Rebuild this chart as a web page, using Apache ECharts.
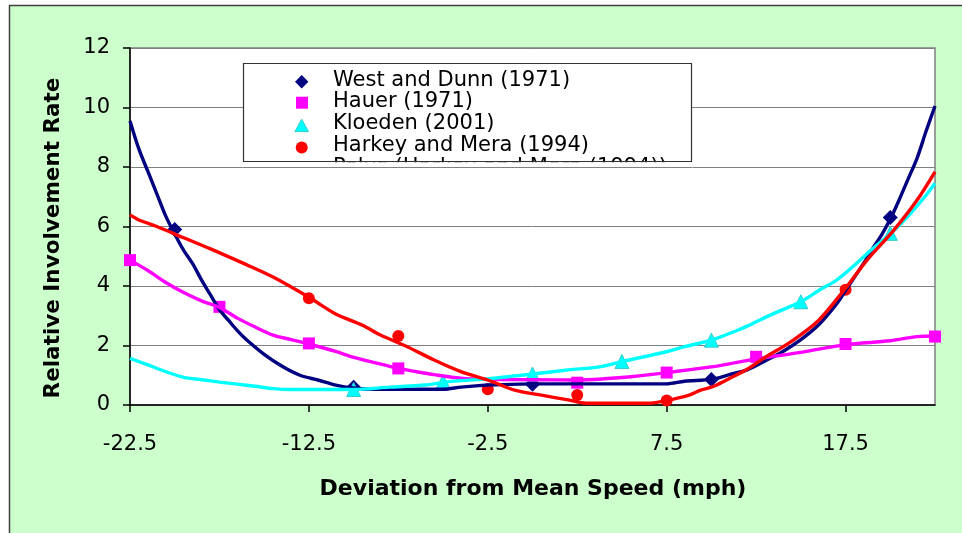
<!DOCTYPE html>
<html>
<head>
<meta charset="utf-8">
<script src="https://cdn.jsdelivr.net/npm/echarts@6/dist/echarts.min.js"></script>
<style>
  html, body { margin: 0; padding: 0; background: #fff; }
  #chart { width: 962px; height: 533px; }
</style>
</head>
<body>
<div id="chart"></div>
<script>
// Relative involvement rate vs. deviation from mean speed (mph)

const xTicks = [-22.5, -12.5, -2.5, 7.5, 17.5];
const yTicks = [0, 2, 4, 6, 8, 10, 12];

const seriesNames = [
  'West and Dunn (1971)',
  'Hauer (1971)',
  'Kloeden (2001)',
  'Harkey and Mera (1994)',
  'Polus (Harkey and Mera (1994))'
];

// Fitted curves: [deviation mph, relative rate]
const westDunnCurve = [
  [-22.5, 9.55], [-22, 8.6], [-21.5, 7.85], [-21, 7.1], [-20.5, 6.35], [-20, 5.75],
  [-19.5, 5.2], [-19, 4.75], [-18.5, 4.2], [-18, 3.7], [-17.5, 3.2], [-17, 2.85],
  [-16.5, 2.5], [-16, 2.2], [-15, 1.7], [-14, 1.3], [-13, 1.0], [-12, 0.84],
  [-11, 0.67], [-10, 0.57], [-9, 0.53], [-5, 0.53], [-4, 0.6], [-3, 0.65],
  [-2, 0.68], [0, 0.71], [7.5, 0.71], [8.5, 0.8], [10, 0.86], [11, 1.02],
  [12, 1.18], [13, 1.48], [14, 1.8], [15, 2.2], [16, 2.7], [17, 3.4],
  [17.5, 3.85], [18, 4.3], [18.5, 4.75], [19, 5.25], [19.5, 5.7], [20, 6.25],
  [20.5, 6.9], [21, 7.6], [21.5, 8.3], [22, 9.2], [22.5, 10.05]
];
const hauerCurve = [
  [-22.5, 4.87], [-21.5, 4.52], [-20.5, 4.12], [-19.5, 3.78], [-18.5, 3.5],
  [-17.5, 3.28], [-16.5, 2.92], [-15.5, 2.62], [-14.5, 2.35], [-13.5, 2.2],
  [-12.5, 2.05], [-11, 1.8], [-10, 1.6], [-9, 1.45], [-7.5, 1.23], [-6.5, 1.12],
  [-5.5, 1.02], [-4, 0.9], [-2.5, 0.86], [0, 0.85], [2.5, 0.84], [4, 0.88],
  [5.5, 0.95], [7.5, 1.09], [10, 1.28], [12.5, 1.55], [15, 1.77], [17.5, 2.03],
  [20, 2.16], [21.5, 2.3], [22.5, 2.32]
];
const kloedenCurve = [
  [-22.5, 1.57], [-21.5, 1.35], [-20.5, 1.12], [-19.5, 0.93], [-18.5, 0.85],
  [-17.5, 0.77], [-16.5, 0.7], [-15.5, 0.63], [-14.5, 0.55], [-13.5, 0.52],
  [-10, 0.52], [-8, 0.6], [-6, 0.67], [-5, 0.76], [-4, 0.82], [-2.5, 0.88],
  [0, 1.04], [2, 1.18], [3.75, 1.28], [5, 1.46], [7.5, 1.79], [8.5, 1.96],
  [10, 2.18], [11.5, 2.52], [12, 2.65], [13.5, 3.08], [15, 3.47], [16, 3.85],
  [17, 4.2], [18, 4.7], [19, 5.25], [20, 5.75], [21, 6.35], [22, 7.05], [22.5, 7.45]
];
const harkeyCurve = [
  [-22.5, 6.39], [-22, 6.22], [-21, 6.0], [-19.5, 5.62], [-18, 5.25], [-16, 4.72],
  [-14.5, 4.3], [-12.5, 3.62], [-11, 3.06], [-9.5, 2.68], [-8.5, 2.35], [-7, 1.96],
  [-5.5, 1.51], [-4, 1.12], [-2.5, 0.84], [-1, 0.5], [0.5, 0.33], [2, 0.17],
  [3, 0.06], [6.5, 0.06], [7.5, 0.15], [8.8, 0.34], [9.4, 0.5], [10.1, 0.62],
  [11.2, 0.95], [12, 1.2], [13, 1.6], [14.5, 2.15], [16, 2.85], [17.4, 3.85],
  [18.7, 4.87], [20.2, 5.88], [21.5, 6.89], [22.5, 7.84]
];

// Observed data points
const westDunnPoints = [[-20, 5.9], [-10, 0.6], [0, 0.7], [10, 0.86], [20, 6.3]];
const hauerPoints = [
  [-22.5, 4.87], [-17.5, 3.3], [-12.5, 2.07], [-7.5, 1.23], [2.5, 0.75],
  [7.5, 1.09], [12.5, 1.62], [17.5, 2.05], [22.5, 2.3]
];
const kloedenPoints = [[-10, 0.52], [-5, 0.78], [0, 1.04], [5, 1.46], [10, 2.18], [15, 3.47], [20, 5.77]];
const harkeyPoints = [[-12.5, 3.59], [-7.5, 2.32], [-2.5, 0.53], [2.5, 0.34], [7.5, 0.15], [17.5, 3.87]];

const colors = ['#000080', '#FF00FF', '#00FFFF', '#FF0000'];
const symbols = ['diamond', 'rect', 'triangle', 'circle'];
const symbolSizes = [15, 12, 14, 12];
const symbolBorders = ['#000080', '#FF00FF', '#33CCCC', '#FF0000'];

const FONT = 'DejaVu Sans';

const curves = [westDunnCurve, hauerCurve, kloedenCurve, harkeyCurve];
const points = [westDunnPoints, hauerPoints, kloedenPoints, harkeyPoints];

const series = [];
for (let i = 0; i < 4; i++) {
  series.push({
    type: 'line',
    name: seriesNames[i] + ' curve',
    data: curves[i],
    showSymbol: false,
    smooth: 0.3,
    lineStyle: { color: colors[i], width: 3.4 },
    silent: true
  });
  series.push({
    type: 'scatter',
    name: seriesNames[i],
    data: points[i],
    symbol: symbols[i],
    symbolSize: symbolSizes[i],
    itemStyle: { color: colors[i], borderColor: symbolBorders[i], borderWidth: i === 2 ? 1 : 0, opacity: 1 }
  });
}

const chart = echarts.init(document.getElementById('chart'), null, { renderer: 'canvas' });

const option = {
  backgroundColor: '#ffffff',
  animation: false,
  grid: {
    left: 130, right: 27, top: 48, bottom: 128,
    show: true, backgroundColor: '#ffffff', borderColor: '#808080', borderWidth: 1.5
  },
  xAxis: {
    type: 'value', min: -22.5, max: 22.5,
    axisLine: { show: true, onZero: false, lineStyle: { color: '#000', width: 1.5 } },
    axisTick: { show: true, inside: false, length: 7, customValues: xTicks, lineStyle: { color: '#000', width: 1.5 } },
    axisLabel: {
      customValues: xTicks, margin: 29, color: '#000', fontFamily: FONT, fontSize: 21,
      formatter: v => v.toFixed(1)
    },
    splitLine: { show: false }
  },
  yAxis: {
    type: 'value', min: yTicks[0], max: yTicks[yTicks.length - 1], interval: 2,
    axisLine: { show: true, onZero: false, lineStyle: { color: '#000', width: 1.5 } },
    axisTick: { show: true, inside: false, length: 7, lineStyle: { color: '#000', width: 1.5 } },
    axisLabel: { margin: 20, color: '#000', fontFamily: FONT, fontSize: 21 },
    splitLine: { show: true, lineStyle: { color: '#808080', width: 1 } }
  },
  series: series,
  graphic: [
    {
      id: 'frame', type: 'rect', z: -10, silent: true,
      shape: { x: 9.5, y: 5.5, width: 1000, height: 600 },
      style: { fill: '#CCFFCC', stroke: '#404040', lineWidth: 1.5 }
    },
    {
      id: 'xTitle', type: 'text', z: 5, x: 533, y: 489,
      style: {
        text: 'Deviation from Mean Speed (mph)', fill: '#000',
        font: 'bold 22px "' + FONT + '"', align: 'center', verticalAlign: 'middle'
      }
    },
    {
      id: 'yTitle', type: 'text', z: 5, x: 53, y: 238, rotation: Math.PI / 2,
      style: {
        text: 'Relative Involvement Rate', fill: '#000',
        font: 'bold 21.5px "' + FONT + '"', align: 'center', verticalAlign: 'middle'
      }
    }
  ]
};
chart.setOption(option);

// Legend box, drawn on top of the plot; its last entry is cut off by the box edge
const box = { x: 243.5, y: 63.5, w: 448, h: 98 };
const rowY = [80.5, 101.8, 123.5, 145.3, 167.1];
const legend = [];
legend.push({
  id: 'legBox', type: 'rect', z: 100,
  shape: { x: box.x, y: box.y, width: box.w, height: box.h },
  style: { fill: '#fff', stroke: '#333', lineWidth: 1.2 }
});
for (let i = 0; i < seriesNames.length; i++) {
  legend.push({
    id: 'legText' + i, type: 'text', z: 101, x: 333, y: rowY[i],
    style: { text: seriesNames[i], fill: '#000', font: '21px "' + FONT + '"', verticalAlign: 'middle' }
  });
}
const symShapes = [
  { type: 'polygon', shape: { points: [[301.7, 75], [308.4, 81.7], [301.7, 88.4], [295, 81.7]] } },
  { type: 'rect', shape: { x: 296, y: 96.7, width: 12, height: 12 } },
  { type: 'polygon', shape: { points: [[301.7, 119.2], [308.5, 131.6], [294.9, 131.6]] } },
  { type: 'circle', shape: { cx: 301.7, cy: 147.4, r: 6 } }
];
symShapes.forEach((s, i) => {
  legend.push(Object.assign({
    id: 'legSym' + i, z: 101,
    style: { fill: colors[i], stroke: symbolBorders[i], lineWidth: i === 2 ? 1 : 0 }
  }, s));
});
// mask the overflow of the truncated entry below the box
const gridY8 = Math.round(chart.convertToPixel({ yAxisIndex: 0 }, 8)) + 0.5;
legend.push({
  id: 'legMask', type: 'rect', z: 102,
  shape: { x: box.x - 1, y: box.y + box.h + 0.7, width: box.w + 2, height: 26 },
  style: { fill: '#fff' }
});
legend.push({
  id: 'legGrid', type: 'line', z: 103,
  shape: { x1: box.x - 1, y1: gridY8, x2: box.x + box.w + 1, y2: gridY8 },
  style: { stroke: '#808080', lineWidth: 1 }
});
legend.push({
  id: 'legBottom', type: 'line', z: 103,
  shape: { x1: box.x, y1: box.y + box.h, x2: box.x + box.w, y2: box.y + box.h },
  style: { stroke: '#333', lineWidth: 1.2 }
});
chart.setOption({ graphic: option.graphic.concat(legend) });
</script>
</body>
</html>
